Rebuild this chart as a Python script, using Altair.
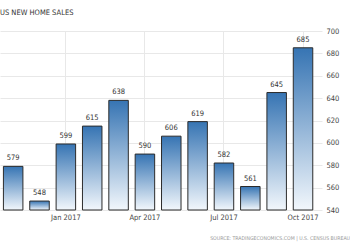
import altair as alt
import pandas as pd

months = ["Nov 2016", "Dec 2016", "Jan 2017", "Feb 2017", "Mar 2017", "Apr 2017",
          "May 2017", "Jun 2017", "Jul 2017", "Aug 2017", "Sep 2017", "Oct 2017"]
sales = [579, 548, 599, 615, 638, 590, 606, 619, 582, 561, 645, 685]
y_ticks = [540, 560, 580, 600, 620, 640, 660, 680, 700]
x_ticks = ["Jan 2017", "Apr 2017", "Jul 2017", "Oct 2017"]
title_text = "US NEW HOME SALES"
source_text = "SOURCE: TRADINGECONOMICS.COM | U.S. CENSUS BUREAU"

df = pd.DataFrame({"month": months, "sales": sales, "base": [540] * len(months)})

FONT = "Liberation Sans Narrow, DejaVu Sans Condensed, sans-serif"

x = alt.X("month:O", sort=None,
          scale=alt.Scale(paddingInner=0.26, paddingOuter=0.24, align=0.27),
          axis=alt.Axis(title=None, values=x_ticks, labelAngle=0, grid=True,
                        gridColor="#e8e8e8", domain=False, ticks=False,
                        labelFont=FONT, labelFontSize=7.5, labelColor="#444",
                        labelPadding=3, labelOverlap=False))
y = alt.Y("sales:Q", scale=alt.Scale(domain=[540, 700], nice=False, zero=False),
          axis=alt.Axis(title=None, orient="right", values=y_ticks, grid=True,
                        gridColor="#e8e8e8", domain=False, ticks=False,
                        labelFont=FONT, labelFontSize=7.5, labelColor="#444",
                        labelPadding=4, labelOverlap=False, labelBound=False))

grad = alt.Gradient(gradient="linear",
                    stops=[alt.GradientStop(color="#3674b3", offset=0),
                           alt.GradientStop(color="#f2f7fc", offset=1)],
                    x1=0, x2=0, y1=0, y2=1)

bars = alt.Chart(df).mark_bar(color=grad, stroke="#2b2b2b", strokeWidth=1).encode(
    x=x, y=y, y2="base:Q")

labels = alt.Chart(df).mark_text(baseline="bottom", dy=-4, font=FONT, fontSize=7.5,
                                 color="#333").encode(
    x=x, y=y, text="sales:Q")

title = alt.Chart(pd.DataFrame({"t": [title_text]})).mark_text(
    align="left", baseline="middle", font=FONT, fontSize=7.5, color="#333").encode(
    x=alt.value(0), y=alt.value(-18), text="t:N")

source = alt.Chart(pd.DataFrame({"t": [source_text]})).mark_text(
    align="right", baseline="middle", font=FONT, fontSize=5.2, color="#999").encode(
    x=alt.value(350), y=alt.value(207), text="t:N")

chart = alt.layer(bars, labels, title, source).properties(
    width=322, height=179,
    autosize=alt.AutoSizeParams(type="none"),
    padding={"left": 0, "top": 31, "right": 28, "bottom": 40},
    background="white",
).configure_view(stroke=None)

chart.save("out.html", embed_options={"renderer": "svg", "actions": False})
